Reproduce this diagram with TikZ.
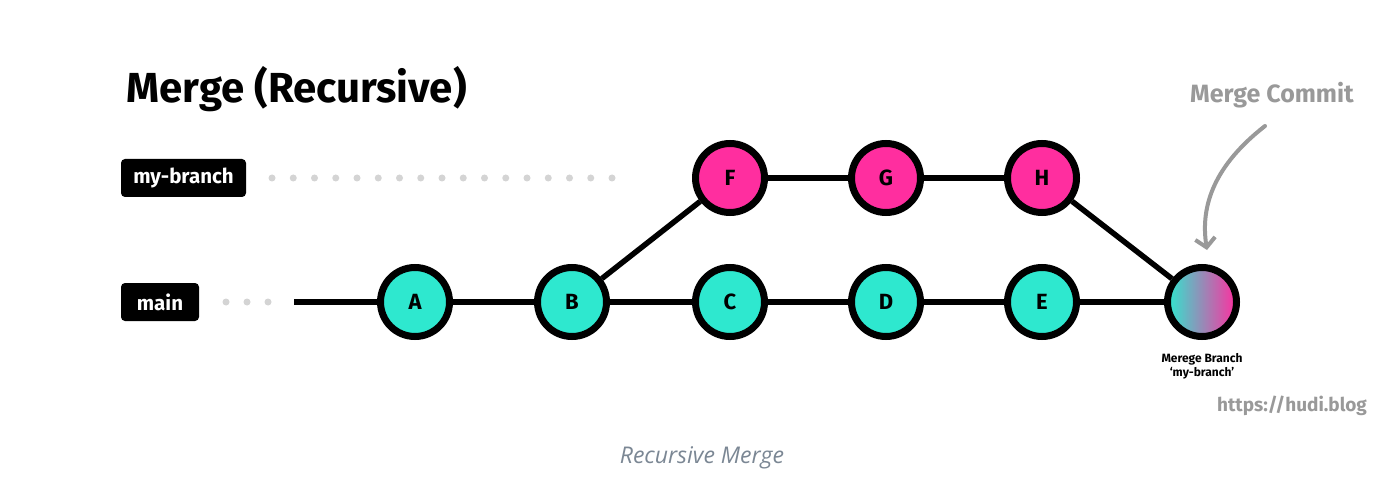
\documentclass[tikz,border=0pt]{standalone}
\usepackage{fontspec}
\setmainfont{Fira Sans}
\newfontfamily\capfont{Open Sans}
\usetikzlibrary{arrows.meta}
\definecolor{tealc}{HTML}{2EE8CF}
\definecolor{pinkc}{HTML}{FF2E9F}
\definecolor{dotc}{HTML}{D4D4D4}
\definecolor{grayc}{HTML}{999999}
\definecolor{capc}{HTML}{7B8794}
\tikzset{
  commit/.style={circle, draw=black, line width=7pt, minimum size=69pt, inner sep=0pt,
    font=\bfseries\fontsize{22}{22}\selectfont},
  maincommit/.style={commit, fill=tealc},
  branchcommit/.style={commit, fill=pinkc},
  mergecommit/.style={commit, left color=tealc, right color=pinkc},
  edge/.style={line width=5.5pt, draw=black},
  branchlabel/.style={fill=black, text=white, rounded corners=4pt, minimum height=38pt,
    inner sep=0pt, font=\bfseries\fontsize{20.5}{20.5}\selectfont},
  dot/.style={circle, fill=dotc, inner sep=0pt, minimum size=7pt},
}
\begin{document}
\begin{tikzpicture}[x=1pt,y=-1pt]
\useasboundingbox[fill=white] (0,0) rectangle (1388,494);

\node[anchor=base west, font=\bfseries\fontsize{42}{42}\selectfont] (title) at (123,103) {Merge (Recursive)};

\node[branchlabel, minimum width=125pt] (lbranch) at (183.5,178) {my-branch};
\node[branchlabel, minimum width=78pt] (lmain) at (160,302) {main};

\foreach \i in {0,...,16} {
  \node[dot] (bd\i) at ({272+21.25*\i},178) {};
}
\foreach \i in {0,1,2} {
  \node[dot] (md\i) at ({226+21*\i},302) {};
}

\coordinate (start) at (294,302);

\node[maincommit] (A) at (415,302) {A};
\node[maincommit] (B) at (572,302) {B};
\node[maincommit] (C) at (730,302) {C};
\node[maincommit] (D) at (886,302) {D};
\node[maincommit] (E) at (1042,302) {E};
\node[mergecommit] (M) at (1202,302) {};
\node[branchcommit] (F) at (730,178) {F};
\node[branchcommit] (G) at (886,178) {G};
\node[branchcommit] (H) at (1042,178) {H};

\draw[edge] (start) -- (A);
\draw[edge] (A) -- (B);
\draw[edge] (B) -- (C);
\draw[edge] (C) -- (D);
\draw[edge] (D) -- (E);
\draw[edge] (E) -- (M);
\draw[edge] (B) -- (F);
\draw[edge] (F) -- (G);
\draw[edge] (G) -- (H);
\draw[edge] (H) -- (M);

\node[align=center, font=\bfseries\fontsize{12}{14}\selectfont] (mlabel) at (1202,366) {Merege Branch\\`my-branch'};

\node[text=grayc, font=\bfseries\fontsize{25}{25}\selectfont] (mc) at (1272,95) {Merge Commit};
\coordinate (arrowend) at (1207,250);
\draw[grayc, line width=4pt, line cap=round, -{Straight Barb[length=9pt,width=20pt,line width=4pt]}]
  (1265,126) .. controls (1215,165) and (1200,205) .. (arrowend);

\node[text=grayc, font=\bfseries\fontsize{19}{19}\selectfont] (url) at (1292,406) {https://hudi.blog};

\node[text=capc, font=\capfont\itshape\fontsize{23}{23}\selectfont] (cap) at (702,458) {Recursive Merge};
\end{tikzpicture}
\end{document}
